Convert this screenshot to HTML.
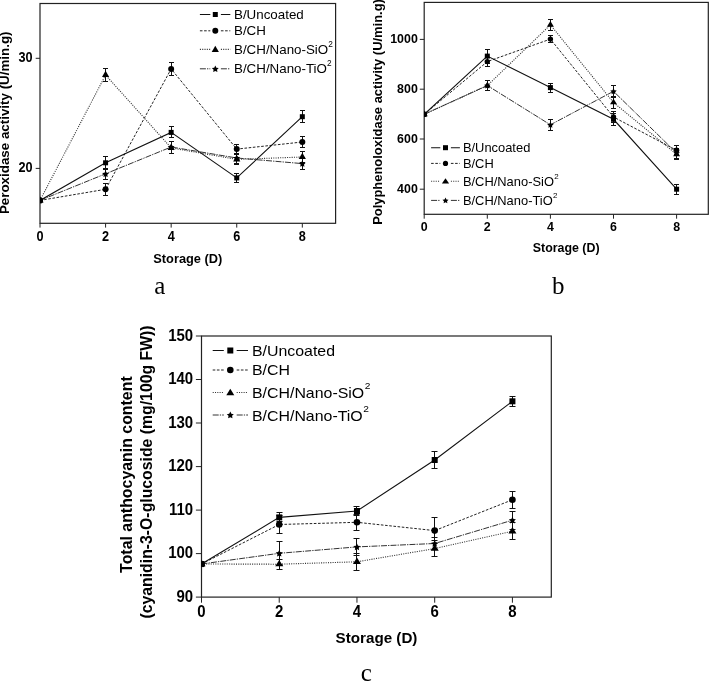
<!DOCTYPE html>
<html><head><meta charset="utf-8"><title>Figure</title>
<style>
html,body{margin:0;padding:0;background:#fff;}
body{width:709px;height:681px;overflow:hidden;position:relative;}
svg{position:absolute;left:0;top:0;display:block;will-change:transform;}
.b{font-family:"Liberation Sans",sans-serif;font-weight:bold;fill:#000;}
.r{font-family:"Liberation Sans",sans-serif;font-weight:normal;fill:#000;}
.s{font-family:"Liberation Serif",serif;fill:#000;}
</style></head>
<body>
<svg width="709" height="681" viewBox="0 0 709 681">
<rect width="709" height="681" fill="#fff"/>
<clipPath id="clipa"><rect x="40.00" y="3.50" width="295.60" height="219.80"/></clipPath>
<rect x="40.00" y="3.50" width="295.60" height="219.80" fill="none" stroke="#222" stroke-width="1.20"/>
<line x1="40.00" y1="223.30" x2="40.00" y2="227.60" stroke="#222" stroke-width="1"/>
<text transform="translate(40.00,241.20) scale(1,1.120)" text-anchor="middle" class="b" font-size="12.70">0</text>
<line x1="105.58" y1="223.30" x2="105.58" y2="227.60" stroke="#222" stroke-width="1"/>
<text transform="translate(105.58,241.20) scale(1,1.120)" text-anchor="middle" class="b" font-size="12.70">2</text>
<line x1="171.16" y1="223.30" x2="171.16" y2="227.60" stroke="#222" stroke-width="1"/>
<text transform="translate(171.16,241.20) scale(1,1.120)" text-anchor="middle" class="b" font-size="12.70">4</text>
<line x1="236.74" y1="223.30" x2="236.74" y2="227.60" stroke="#222" stroke-width="1"/>
<text transform="translate(236.74,241.20) scale(1,1.120)" text-anchor="middle" class="b" font-size="12.70">6</text>
<line x1="302.32" y1="223.30" x2="302.32" y2="227.60" stroke="#222" stroke-width="1"/>
<text transform="translate(302.32,241.20) scale(1,1.120)" text-anchor="middle" class="b" font-size="12.70">8</text>
<line x1="35.70" y1="58.30" x2="40.00" y2="58.30" stroke="#222" stroke-width="1"/>
<text transform="translate(32.50,61.90) scale(1,1.120)" text-anchor="end" class="b" font-size="12.70">30</text>
<line x1="35.70" y1="168.40" x2="40.00" y2="168.40" stroke="#222" stroke-width="1"/>
<text transform="translate(32.50,172.00) scale(1,1.120)" text-anchor="end" class="b" font-size="12.70">20</text>
<text x="187.80" y="263.00" text-anchor="middle" class="b" font-size="12.80">Storage (D)</text>
<text transform="translate(9.00,122.80) rotate(-90)" text-anchor="middle" class="b" font-size="13.37">Peroxidase activity (U/min.g)</text>
<text x="159.90" y="294.00" text-anchor="middle" class="s" font-size="25.00">a</text>
<g clip-path="url(#clipa)">
<polyline points="40.00,200.40 105.58,75.00 171.16,147.90 236.74,159.40 302.32,157.00" fill="none" stroke="#333" stroke-width="1.1" stroke-dasharray="1.05,1.25"/>
<polyline points="40.00,200.40 105.58,173.80 171.16,147.00 236.74,158.00 302.32,163.60" fill="none" stroke="#333" stroke-width="1" stroke-dasharray="6,1.1,1.3,1.1"/>
<polyline points="40.00,200.40 105.58,189.30 171.16,68.90 236.74,149.10 302.32,142.00" fill="none" stroke="#222" stroke-width="1" stroke-dasharray="2.6,1.6"/>
<polyline points="40.00,200.40 105.58,162.80 171.16,132.40 236.74,177.90 302.32,116.70" fill="none" stroke="#111" stroke-width="1.1"/>
<path d="M105.50,68.50 V81.50 M103.00,68.50 H108.00 M103.00,81.50 H108.00" stroke="#111" stroke-width="1" fill="none"/>
<path d="M171.50,141.50 V153.50 M169.00,141.50 H174.00 M169.00,153.50 H174.00" stroke="#111" stroke-width="1" fill="none"/>
<path d="M236.50,154.50 V164.50 M234.00,154.50 H239.00 M234.00,164.50 H239.00" stroke="#111" stroke-width="1" fill="none"/>
<path d="M302.50,151.50 V162.50 M300.00,151.50 H305.00 M300.00,162.50 H305.00" stroke="#111" stroke-width="1" fill="none"/>
<path d="M105.50,168.50 V179.50 M103.00,168.50 H108.00 M103.00,179.50 H108.00" stroke="#111" stroke-width="1" fill="none"/>
<path d="M171.50,141.50 V153.50 M169.00,141.50 H174.00 M169.00,153.50 H174.00" stroke="#111" stroke-width="1" fill="none"/>
<path d="M236.50,153.50 V163.50 M234.00,153.50 H239.00 M234.00,163.50 H239.00" stroke="#111" stroke-width="1" fill="none"/>
<path d="M302.50,157.50 V169.50 M300.00,157.50 H305.00 M300.00,169.50 H305.00" stroke="#111" stroke-width="1" fill="none"/>
<path d="M105.50,183.50 V195.50 M103.00,183.50 H108.00 M103.00,195.50 H108.00" stroke="#111" stroke-width="1" fill="none"/>
<path d="M171.50,62.50 V75.50 M169.00,62.50 H174.00 M169.00,75.50 H174.00" stroke="#111" stroke-width="1" fill="none"/>
<path d="M236.50,144.50 V153.50 M234.00,144.50 H239.00 M234.00,153.50 H239.00" stroke="#111" stroke-width="1" fill="none"/>
<path d="M302.50,136.50 V147.50 M300.00,136.50 H305.00 M300.00,147.50 H305.00" stroke="#111" stroke-width="1" fill="none"/>
<path d="M105.50,156.50 V169.50 M103.00,156.50 H108.00 M103.00,169.50 H108.00" stroke="#111" stroke-width="1" fill="none"/>
<path d="M171.50,126.50 V137.50 M169.00,126.50 H174.00 M169.00,137.50 H174.00" stroke="#111" stroke-width="1" fill="none"/>
<path d="M236.50,173.50 V182.50 M234.00,173.50 H239.00 M234.00,182.50 H239.00" stroke="#111" stroke-width="1" fill="none"/>
<path d="M302.50,110.50 V122.50 M300.00,110.50 H305.00 M300.00,122.50 H305.00" stroke="#111" stroke-width="1" fill="none"/>
<g fill="#000"><path d="M40.00,196.26 L43.60,202.46 L36.40,202.46Z"/><path d="M105.58,70.86 L109.18,77.06 L101.98,77.06Z"/><path d="M171.16,143.76 L174.76,149.96 L167.56,149.96Z"/><path d="M236.74,155.26 L240.34,161.46 L233.14,161.46Z"/><path d="M302.32,152.86 L305.92,159.06 L298.72,159.06Z"/></g>
<g fill="#000"><path d="M40.00,197.10 L41.06,199.24 L43.42,199.59 L41.71,201.26 L42.12,203.61 L40.00,202.50 L37.88,203.61 L38.29,201.26 L36.58,199.59 L38.94,199.24Z"/><path d="M105.58,170.50 L106.64,172.64 L109.00,172.99 L107.29,174.66 L107.70,177.01 L105.58,175.90 L103.46,177.01 L103.87,174.66 L102.16,172.99 L104.52,172.64Z"/><path d="M171.16,143.70 L172.22,145.84 L174.58,146.19 L172.87,147.86 L173.28,150.21 L171.16,149.10 L169.04,150.21 L169.45,147.86 L167.74,146.19 L170.10,145.84Z"/><path d="M236.74,154.70 L237.80,156.84 L240.16,157.19 L238.45,158.86 L238.86,161.21 L236.74,160.10 L234.62,161.21 L235.03,158.86 L233.32,157.19 L235.68,156.84Z"/><path d="M302.32,160.30 L303.38,162.44 L305.74,162.79 L304.03,164.46 L304.44,166.81 L302.32,165.70 L300.20,166.81 L300.61,164.46 L298.90,162.79 L301.26,162.44Z"/></g>
<g fill="#000"><circle cx="40.00" cy="200.40" r="3.00"/><circle cx="105.58" cy="189.30" r="3.00"/><circle cx="171.16" cy="68.90" r="3.00"/><circle cx="236.74" cy="149.10" r="3.00"/><circle cx="302.32" cy="142.00" r="3.00"/></g>
<g fill="#000"><rect x="37.50" y="197.90" width="5.00" height="5.00"/><rect x="103.08" y="160.30" width="5.00" height="5.00"/><rect x="168.66" y="129.90" width="5.00" height="5.00"/><rect x="234.24" y="175.40" width="5.00" height="5.00"/><rect x="299.82" y="114.20" width="5.00" height="5.00"/></g>
</g>
<path d="M199.90,14.50 H210.30 M220.90,14.50 H230.30" fill="none" stroke="#111" stroke-width="1.1"/>
<g fill="#000"><rect x="212.80" y="12.00" width="5.00" height="5.00"/></g>
<text transform="translate(234.00,18.80) scale(1.000,1)" class="r" font-size="13.35">B/Uncoated</text>
<path d="M199.90,30.80 H210.30 M220.90,30.80 H230.30" fill="none" stroke="#222" stroke-width="1" stroke-dasharray="2.6,1.6"/>
<g fill="#000"><circle cx="215.30" cy="30.80" r="3.00"/></g>
<text transform="translate(234.00,35.30) scale(1.000,1)" class="r" font-size="13.35">B/CH</text>
<path d="M199.90,49.40 H210.30 M220.90,49.40 H230.30" fill="none" stroke="#333" stroke-width="1.1" stroke-dasharray="1.05,1.25"/>
<g fill="#000"><path d="M215.30,45.76 L218.90,51.96 L211.70,51.96Z"/></g>
<text transform="translate(234.00,54.30) scale(1.000,1)" class="r" font-size="13.35">B/CH/Nano-SiO<tspan font-size="8.28" dx="0.00" dy="-7.21">2</tspan></text>
<path d="M199.90,68.80 H210.30 M220.90,68.80 H230.30" fill="none" stroke="#333" stroke-width="1" stroke-dasharray="6,1.1,1.3,1.1"/>
<g fill="#000"><path d="M215.30,65.50 L216.36,67.64 L218.72,67.99 L217.01,69.66 L217.42,72.01 L215.30,70.90 L213.18,72.01 L213.59,69.66 L211.88,67.99 L214.24,67.64Z"/></g>
<text transform="translate(234.00,73.10) scale(1.000,1)" class="r" font-size="13.35">B/CH/Nano-TiO<tspan font-size="8.28" dx="0.00" dy="-7.21">2</tspan></text>
<clipPath id="clipb"><rect x="424.20" y="2.40" width="284.10" height="211.90"/></clipPath>
<rect x="424.20" y="2.40" width="284.10" height="211.90" fill="none" stroke="#222" stroke-width="1.20"/>
<line x1="424.20" y1="214.30" x2="424.20" y2="218.70" stroke="#222" stroke-width="1"/>
<text transform="translate(424.20,231.30) scale(1,1.050)" text-anchor="middle" class="b" font-size="12.40">0</text>
<line x1="487.30" y1="214.30" x2="487.30" y2="218.70" stroke="#222" stroke-width="1"/>
<text transform="translate(487.30,231.30) scale(1,1.050)" text-anchor="middle" class="b" font-size="12.40">2</text>
<line x1="550.40" y1="214.30" x2="550.40" y2="218.70" stroke="#222" stroke-width="1"/>
<text transform="translate(550.40,231.30) scale(1,1.050)" text-anchor="middle" class="b" font-size="12.40">4</text>
<line x1="613.50" y1="214.30" x2="613.50" y2="218.70" stroke="#222" stroke-width="1"/>
<text transform="translate(613.50,231.30) scale(1,1.050)" text-anchor="middle" class="b" font-size="12.40">6</text>
<line x1="676.60" y1="214.30" x2="676.60" y2="218.70" stroke="#222" stroke-width="1"/>
<text transform="translate(676.60,231.30) scale(1,1.050)" text-anchor="middle" class="b" font-size="12.40">8</text>
<line x1="419.80" y1="39.40" x2="424.20" y2="39.40" stroke="#222" stroke-width="1"/>
<text transform="translate(417.80,42.96) scale(1,1.050)" text-anchor="end" class="b" font-size="12.40">1000</text>
<line x1="419.80" y1="89.20" x2="424.20" y2="89.20" stroke="#222" stroke-width="1"/>
<text transform="translate(417.80,92.76) scale(1,1.050)" text-anchor="end" class="b" font-size="12.40">800</text>
<line x1="419.80" y1="139.00" x2="424.20" y2="139.00" stroke="#222" stroke-width="1"/>
<text transform="translate(417.80,142.56) scale(1,1.050)" text-anchor="end" class="b" font-size="12.40">600</text>
<line x1="419.80" y1="189.20" x2="424.20" y2="189.20" stroke="#222" stroke-width="1"/>
<text transform="translate(417.80,192.76) scale(1,1.050)" text-anchor="end" class="b" font-size="12.40">400</text>
<text x="566.20" y="252.40" text-anchor="middle" class="b" font-size="12.40">Storage (D)</text>
<text transform="translate(381.50,112.00) rotate(-90)" text-anchor="middle" class="b" font-size="12.95">Polyphenoloxidase activity (U/min.g)</text>
<text x="558.20" y="294.20" text-anchor="middle" class="s" font-size="25.00">b</text>
<g clip-path="url(#clipb)">
<polyline points="424.20,114.30 487.30,85.60 550.40,24.85 613.50,102.50 676.60,154.30" fill="none" stroke="#333" stroke-width="1.1" stroke-dasharray="1.05,1.25"/>
<polyline points="424.20,114.30 487.30,85.50 550.40,124.80 613.50,91.30 676.60,153.00" fill="none" stroke="#333" stroke-width="1" stroke-dasharray="6,1.1,1.3,1.1"/>
<polyline points="424.20,114.30 487.30,61.60 550.40,39.10 613.50,117.00 676.60,150.30" fill="none" stroke="#222" stroke-width="1" stroke-dasharray="2.6,1.6"/>
<polyline points="424.20,114.30 487.30,56.10 550.40,87.60 613.50,119.30 676.60,189.20" fill="none" stroke="#111" stroke-width="1.1"/>
<path d="M487.50,80.50 V90.50 M485.00,80.50 H490.00 M485.00,90.50 H490.00" stroke="#111" stroke-width="1" fill="none"/>
<path d="M550.50,19.50 V30.50 M548.00,19.50 H553.00 M548.00,30.50 H553.00" stroke="#111" stroke-width="1" fill="none"/>
<path d="M613.50,96.50 V108.50 M611.00,96.50 H616.00 M611.00,108.50 H616.00" stroke="#111" stroke-width="1" fill="none"/>
<path d="M676.50,149.50 V159.50 M674.00,149.50 H679.00 M674.00,159.50 H679.00" stroke="#111" stroke-width="1" fill="none"/>
<path d="M487.50,80.50 V90.50 M485.00,80.50 H490.00 M485.00,90.50 H490.00" stroke="#111" stroke-width="1" fill="none"/>
<path d="M550.50,119.50 V130.50 M548.00,119.50 H553.00 M548.00,130.50 H553.00" stroke="#111" stroke-width="1" fill="none"/>
<path d="M613.50,85.50 V97.50 M611.00,85.50 H616.00 M611.00,97.50 H616.00" stroke="#111" stroke-width="1" fill="none"/>
<path d="M676.50,148.50 V158.50 M674.00,148.50 H679.00 M674.00,158.50 H679.00" stroke="#111" stroke-width="1" fill="none"/>
<path d="M487.50,57.50 V66.50 M485.00,57.50 H490.00 M485.00,66.50 H490.00" stroke="#111" stroke-width="1" fill="none"/>
<path d="M550.50,35.50 V42.50 M548.00,35.50 H553.00 M548.00,42.50 H553.00" stroke="#111" stroke-width="1" fill="none"/>
<path d="M613.50,111.50 V122.50 M611.00,111.50 H616.00 M611.00,122.50 H616.00" stroke="#111" stroke-width="1" fill="none"/>
<path d="M676.50,145.50 V154.50 M674.00,145.50 H679.00 M674.00,154.50 H679.00" stroke="#111" stroke-width="1" fill="none"/>
<path d="M487.50,49.50 V63.50 M485.00,49.50 H490.00 M485.00,63.50 H490.00" stroke="#111" stroke-width="1" fill="none"/>
<path d="M550.50,83.50 V92.50 M548.00,83.50 H553.00 M548.00,92.50 H553.00" stroke="#111" stroke-width="1" fill="none"/>
<path d="M613.50,113.50 V125.50 M611.00,113.50 H616.00 M611.00,125.50 H616.00" stroke="#111" stroke-width="1" fill="none"/>
<path d="M676.50,184.50 V194.50 M674.00,184.50 H679.00 M674.00,194.50 H679.00" stroke="#111" stroke-width="1" fill="none"/>
<g fill="#000"><path d="M424.20,110.56 L427.70,116.16 L420.70,116.16Z"/><path d="M487.30,81.86 L490.80,87.46 L483.80,87.46Z"/><path d="M550.40,21.11 L553.90,26.71 L546.90,26.71Z"/><path d="M613.50,98.76 L617.00,104.36 L610.00,104.36Z"/><path d="M676.60,150.56 L680.10,156.16 L673.10,156.16Z"/></g>
<g fill="#000"><path d="M424.20,111.20 L425.20,113.22 L427.43,113.55 L425.82,115.13 L426.20,117.35 L424.20,116.30 L422.20,117.35 L422.58,115.13 L420.97,113.55 L423.20,113.22Z"/><path d="M487.30,82.40 L488.30,84.42 L490.53,84.75 L488.92,86.33 L489.30,88.55 L487.30,87.50 L485.30,88.55 L485.68,86.33 L484.07,84.75 L486.30,84.42Z"/><path d="M550.40,121.70 L551.40,123.72 L553.63,124.05 L552.02,125.63 L552.40,127.85 L550.40,126.80 L548.40,127.85 L548.78,125.63 L547.17,124.05 L549.40,123.72Z"/><path d="M613.50,88.20 L614.50,90.22 L616.73,90.55 L615.12,92.13 L615.50,94.35 L613.50,93.30 L611.50,94.35 L611.88,92.13 L610.27,90.55 L612.50,90.22Z"/><path d="M676.60,149.90 L677.60,151.92 L679.83,152.25 L678.22,153.83 L678.60,156.05 L676.60,155.00 L674.60,156.05 L674.98,153.83 L673.37,152.25 L675.60,151.92Z"/></g>
<g fill="#000"><circle cx="424.20" cy="114.30" r="2.70"/><circle cx="487.30" cy="61.60" r="2.70"/><circle cx="550.40" cy="39.10" r="2.70"/><circle cx="613.50" cy="117.00" r="2.70"/><circle cx="676.60" cy="150.30" r="2.70"/></g>
<g fill="#000"><rect x="421.70" y="111.80" width="5.00" height="5.00"/><rect x="484.80" y="53.60" width="5.00" height="5.00"/><rect x="547.90" y="85.10" width="5.00" height="5.00"/><rect x="611.00" y="116.80" width="5.00" height="5.00"/><rect x="674.10" y="186.70" width="5.00" height="5.00"/></g>
</g>
<path d="M431.10,147.70 H440.30 M450.90,147.70 H459.90" fill="none" stroke="#111" stroke-width="1.1"/>
<g fill="#000"><rect x="443.00" y="145.20" width="5.00" height="5.00"/></g>
<text transform="translate(462.90,152.40) scale(1.016,1)" class="r" font-size="12.70">B/Uncoated</text>
<path d="M431.10,163.40 H440.30 M450.90,163.40 H459.90" fill="none" stroke="#222" stroke-width="1" stroke-dasharray="2.6,1.6"/>
<g fill="#000"><circle cx="445.50" cy="163.40" r="2.60"/></g>
<text transform="translate(462.90,167.80) scale(1.016,1)" class="r" font-size="12.70">B/CH</text>
<path d="M431.10,181.30 H440.30 M450.90,181.30 H459.90" fill="none" stroke="#333" stroke-width="1.1" stroke-dasharray="1.05,1.25"/>
<g fill="#000"><path d="M445.50,178.33 L449.10,183.53 L441.90,183.53Z"/></g>
<text transform="translate(462.90,185.80) scale(1.016,1)" class="r" font-size="12.70">B/CH/Nano-SiO<tspan font-size="7.87" dx="0.25" dy="-6.35">2</tspan></text>
<path d="M431.10,200.40 H440.30 M450.90,200.40 H459.90" fill="none" stroke="#333" stroke-width="1" stroke-dasharray="6,1.1,1.3,1.1"/>
<g fill="#000"><path d="M445.50,197.50 L446.44,199.41 L448.54,199.71 L447.02,201.19 L447.38,203.29 L445.50,202.30 L443.62,203.29 L443.98,201.19 L442.46,199.71 L444.56,199.41Z"/></g>
<text transform="translate(462.90,204.50) scale(1.016,1)" class="r" font-size="12.70">B/CH/Nano-TiO<tspan font-size="7.87" dx="0.25" dy="-6.35">2</tspan></text>
<clipPath id="clipc"><rect x="201.50" y="336.00" width="349.80" height="261.10"/></clipPath>
<rect x="201.50" y="336.00" width="349.80" height="261.10" fill="none" stroke="#222" stroke-width="1.20"/>
<line x1="201.50" y1="597.10" x2="201.50" y2="602.70" stroke="#222" stroke-width="1"/>
<text transform="translate(201.50,617.00) scale(1,1.100)" text-anchor="middle" class="b" font-size="15.00">0</text>
<line x1="279.23" y1="597.10" x2="279.23" y2="602.70" stroke="#222" stroke-width="1"/>
<text transform="translate(279.23,617.00) scale(1,1.100)" text-anchor="middle" class="b" font-size="15.00">2</text>
<line x1="356.96" y1="597.10" x2="356.96" y2="602.70" stroke="#222" stroke-width="1"/>
<text transform="translate(356.96,617.00) scale(1,1.100)" text-anchor="middle" class="b" font-size="15.00">4</text>
<line x1="434.69" y1="597.10" x2="434.69" y2="602.70" stroke="#222" stroke-width="1"/>
<text transform="translate(434.69,617.00) scale(1,1.100)" text-anchor="middle" class="b" font-size="15.00">6</text>
<line x1="512.42" y1="597.10" x2="512.42" y2="602.70" stroke="#222" stroke-width="1"/>
<text transform="translate(512.42,617.00) scale(1,1.100)" text-anchor="middle" class="b" font-size="15.00">8</text>
<line x1="195.90" y1="597.10" x2="201.50" y2="597.10" stroke="#222" stroke-width="1"/>
<text transform="translate(193.20,601.78) scale(1,1.100)" text-anchor="end" class="b" font-size="15.00">90</text>
<line x1="195.90" y1="553.60" x2="201.50" y2="553.60" stroke="#222" stroke-width="1"/>
<text transform="translate(193.20,558.28) scale(1,1.100)" text-anchor="end" class="b" font-size="15.00">100</text>
<line x1="195.90" y1="510.10" x2="201.50" y2="510.10" stroke="#222" stroke-width="1"/>
<text transform="translate(193.20,514.78) scale(1,1.100)" text-anchor="end" class="b" font-size="15.00">110</text>
<line x1="195.90" y1="466.60" x2="201.50" y2="466.60" stroke="#222" stroke-width="1"/>
<text transform="translate(193.20,471.28) scale(1,1.100)" text-anchor="end" class="b" font-size="15.00">120</text>
<line x1="195.90" y1="423.00" x2="201.50" y2="423.00" stroke="#222" stroke-width="1"/>
<text transform="translate(193.20,427.68) scale(1,1.100)" text-anchor="end" class="b" font-size="15.00">130</text>
<line x1="195.90" y1="379.50" x2="201.50" y2="379.50" stroke="#222" stroke-width="1"/>
<text transform="translate(193.20,384.18) scale(1,1.100)" text-anchor="end" class="b" font-size="15.00">140</text>
<line x1="195.90" y1="336.00" x2="201.50" y2="336.00" stroke="#222" stroke-width="1"/>
<text transform="translate(193.20,340.68) scale(1,1.100)" text-anchor="end" class="b" font-size="15.00">150</text>
<text x="376.50" y="643.30" text-anchor="middle" class="b" font-size="15.20">Storage (D)</text>
<text transform="translate(132.20,474.60) rotate(-90)" text-anchor="middle" class="b" font-size="15.90">Total anthocyanin content</text>
<text transform="translate(152.00,472.00) rotate(-90)" text-anchor="middle" class="b" font-size="15.80">(cyanidin-3-O-glucoside (mg/100g FW))</text>
<text x="366.30" y="681.00" text-anchor="middle" class="s" font-size="25.00">c</text>
<g clip-path="url(#clipc)">
<polyline points="201.50,564.00 279.23,564.20 356.96,561.80 434.69,548.60 512.42,531.30" fill="none" stroke="#333" stroke-width="1.1" stroke-dasharray="1.05,1.25"/>
<polyline points="201.50,564.00 279.23,553.30 356.96,546.90 434.69,543.50 512.42,520.20" fill="none" stroke="#333" stroke-width="1" stroke-dasharray="6,1.1,1.3,1.1"/>
<polyline points="201.50,564.00 279.23,524.50 356.96,522.30 434.69,530.60 512.42,499.80" fill="none" stroke="#222" stroke-width="1" stroke-dasharray="2.6,1.6"/>
<polyline points="201.50,564.00 279.23,517.40 356.96,511.00 434.69,460.00 512.42,401.30" fill="none" stroke="#111" stroke-width="1.1"/>
<path d="M279.50,559.50 V569.50 M276.50,559.50 H282.50 M276.50,569.50 H282.50" stroke="#111" stroke-width="1" fill="none"/>
<path d="M356.50,553.50 V570.50 M353.50,553.50 H359.50 M353.50,570.50 H359.50" stroke="#111" stroke-width="1" fill="none"/>
<path d="M434.50,540.50 V556.50 M431.50,540.50 H437.50 M431.50,556.50 H437.50" stroke="#111" stroke-width="1" fill="none"/>
<path d="M512.50,522.50 V539.50 M509.50,522.50 H515.50 M509.50,539.50 H515.50" stroke="#111" stroke-width="1" fill="none"/>
<path d="M279.50,541.50 V565.50 M276.50,541.50 H282.50 M276.50,565.50 H282.50" stroke="#111" stroke-width="1" fill="none"/>
<path d="M356.50,538.50 V555.50 M353.50,538.50 H359.50 M353.50,555.50 H359.50" stroke="#111" stroke-width="1" fill="none"/>
<path d="M434.50,537.50 V549.50 M431.50,537.50 H437.50 M431.50,549.50 H437.50" stroke="#111" stroke-width="1" fill="none"/>
<path d="M512.50,511.50 V529.50 M509.50,511.50 H515.50 M509.50,529.50 H515.50" stroke="#111" stroke-width="1" fill="none"/>
<path d="M279.50,515.50 V533.50 M276.50,515.50 H282.50 M276.50,533.50 H282.50" stroke="#111" stroke-width="1" fill="none"/>
<path d="M356.50,514.50 V530.50 M353.50,514.50 H359.50 M353.50,530.50 H359.50" stroke="#111" stroke-width="1" fill="none"/>
<path d="M434.50,517.50 V543.50 M431.50,517.50 H437.50 M431.50,543.50 H437.50" stroke="#111" stroke-width="1" fill="none"/>
<path d="M512.50,491.50 V508.50 M509.50,491.50 H515.50 M509.50,508.50 H515.50" stroke="#111" stroke-width="1" fill="none"/>
<path d="M279.50,512.50 V521.50 M276.50,512.50 H282.50 M276.50,521.50 H282.50" stroke="#111" stroke-width="1" fill="none"/>
<path d="M356.50,506.50 V515.50 M353.50,506.50 H359.50 M353.50,515.50 H359.50" stroke="#111" stroke-width="1" fill="none"/>
<path d="M434.50,451.50 V468.50 M431.50,451.50 H437.50 M431.50,468.50 H437.50" stroke="#111" stroke-width="1" fill="none"/>
<path d="M512.50,396.50 V406.50 M509.50,396.50 H515.50 M509.50,406.50 H515.50" stroke="#111" stroke-width="1" fill="none"/>
<g fill="#000"><path d="M201.50,559.73 L205.50,566.13 L197.50,566.13Z"/><path d="M279.23,559.93 L283.23,566.33 L275.23,566.33Z"/><path d="M356.96,557.53 L360.96,563.93 L352.96,563.93Z"/><path d="M434.69,544.33 L438.69,550.73 L430.69,550.73Z"/><path d="M512.42,527.03 L516.42,533.43 L508.42,533.43Z"/></g>
<g fill="#000"><path d="M201.50,560.60 L202.59,562.80 L205.02,563.16 L203.26,564.87 L203.67,567.29 L201.50,566.15 L199.33,567.29 L199.74,564.87 L197.98,563.16 L200.41,562.80Z"/><path d="M279.23,549.90 L280.32,552.10 L282.75,552.46 L280.99,554.17 L281.40,556.59 L279.23,555.45 L277.06,556.59 L277.47,554.17 L275.71,552.46 L278.14,552.10Z"/><path d="M356.96,543.50 L358.05,545.70 L360.48,546.06 L358.72,547.77 L359.13,550.19 L356.96,549.05 L354.79,550.19 L355.20,547.77 L353.44,546.06 L355.87,545.70Z"/><path d="M434.69,540.10 L435.78,542.30 L438.21,542.66 L436.45,544.37 L436.86,546.79 L434.69,545.65 L432.52,546.79 L432.93,544.37 L431.17,542.66 L433.60,542.30Z"/><path d="M512.42,516.80 L513.51,519.00 L515.94,519.36 L514.18,521.07 L514.59,523.49 L512.42,522.35 L510.25,523.49 L510.66,521.07 L508.90,519.36 L511.33,519.00Z"/></g>
<g fill="#000"><circle cx="201.50" cy="564.00" r="3.30"/><circle cx="279.23" cy="524.50" r="3.30"/><circle cx="356.96" cy="522.30" r="3.30"/><circle cx="434.69" cy="530.60" r="3.30"/><circle cx="512.42" cy="499.80" r="3.30"/></g>
<g fill="#000"><rect x="198.50" y="561.00" width="6.00" height="6.00"/><rect x="276.23" y="514.40" width="6.00" height="6.00"/><rect x="353.96" y="508.00" width="6.00" height="6.00"/><rect x="431.69" y="457.00" width="6.00" height="6.00"/><rect x="509.42" y="398.30" width="6.00" height="6.00"/></g>
</g>
<path d="M212.70,350.50 H223.80 M236.70,350.50 H248.00" fill="none" stroke="#111" stroke-width="1.1"/>
<g fill="#000"><rect x="227.30" y="347.50" width="6.00" height="6.00"/></g>
<text transform="translate(252.00,355.80) scale(1.105,1)" class="r" font-size="14.40">B/Uncoated</text>
<path d="M212.70,370.00 H223.80 M236.70,370.00 H248.00" fill="none" stroke="#222" stroke-width="1" stroke-dasharray="2.6,1.6"/>
<g fill="#000"><circle cx="230.30" cy="370.00" r="3.30"/></g>
<text transform="translate(252.00,375.30) scale(1.105,1)" class="r" font-size="14.40">B/CH</text>
<path d="M212.70,392.50 H223.80 M236.70,392.50 H248.00" fill="none" stroke="#333" stroke-width="1.1" stroke-dasharray="1.05,1.25"/>
<g fill="#000"><path d="M230.30,388.73 L234.30,395.13 L226.30,395.13Z"/></g>
<text transform="translate(252.00,398.00) scale(1.105,1)" class="r" font-size="14.40">B/CH/Nano-SiO<tspan font-size="9.22" dx="0.58" dy="-8.93">2</tspan></text>
<path d="M212.70,415.00 H223.80 M236.70,415.00 H248.00" fill="none" stroke="#333" stroke-width="1" stroke-dasharray="6,1.1,1.3,1.1"/>
<g fill="#000"><path d="M230.30,411.60 L231.39,413.80 L233.82,414.16 L232.06,415.87 L232.47,418.29 L230.30,417.15 L228.13,418.29 L228.54,415.87 L226.78,414.16 L229.21,413.80Z"/></g>
<text transform="translate(252.00,420.50) scale(1.105,1)" class="r" font-size="14.40">B/CH/Nano-TiO<tspan font-size="9.22" dx="0.58" dy="-8.93">2</tspan></text>
</svg>
</body></html>
